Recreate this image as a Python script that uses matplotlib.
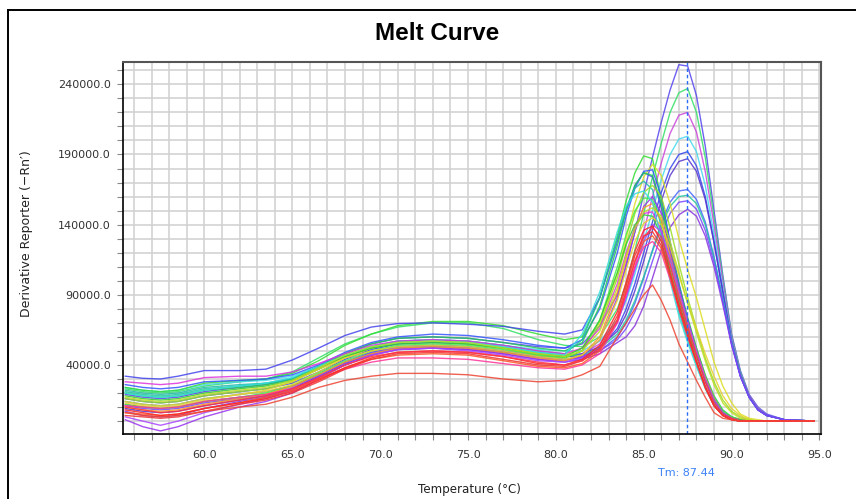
'''
Melt curve: derivative reporter (-Rn') against temperature for every well.
'''

import matplotlib
matplotlib.use('Agg')
import matplotlib.pyplot as plt
import numpy as np
from matplotlib.lines import Line2D
from matplotlib.ticker import FixedLocator, FormatStrFormatter, MultipleLocator

# Temperature points (deg C) shared by all wells
temps = [55.5, 56.5, 57.5, 58.5, 60.0, 62.0, 63.5, 65.0, 66.5, 68.0, 69.5, 71.0,
         73.0, 75.0, 77.0, 79.0, 80.5, 81.5, 82.5, 83.5, 84.0, 84.5, 85.0, 85.5,
         86.0, 86.5, 87.0, 87.5, 88.0, 88.5, 89.0, 89.5, 90.0, 90.5, 91.0, 91.5,
         92.0, 93.0, 94.7]

# Derivative reporter values, in thousands, one list per well
# wells with the late product peak (~87.3 C)
late_blue_1 = [19, 17, 16, 17, 21, 24, 26, 30, 39, 48, 55, 59, 60, 59, 56, 53, 52,
               55, 68, 90, 110, 135, 162, 188, 213, 236, 254, 253, 232, 196, 150, 104, 62, 36, 19, 10, 5, 1, 0]
late_green_1 = [23, 21, 20, 21, 25, 28, 30, 35, 45, 55, 62, 67, 70, 70, 66, 58, 54,
                53, 60, 80, 98, 122, 148, 174, 198, 220, 234, 237, 220, 188, 145, 102, 61, 35, 18, 9, 4, 1, 0]
late_magenta_1 = [12, 10, 9, 10, 14, 17, 19, 24, 33, 42, 49, 53, 54, 53, 50, 47, 46,
                  48, 55, 72, 88, 110, 135, 160, 184, 205, 218, 220, 206, 178, 140, 99, 60, 34, 18, 9, 4, 1, 0]
late_cyan_1 = [24, 22, 21, 22, 26, 28, 29, 32, 39, 47, 53, 57, 58, 57, 54, 51, 50,
               50, 57, 72, 86, 105, 128, 150, 172, 190, 201, 203, 192, 168, 133, 95, 58, 33, 17, 8, 4, 1, 0]
late_blue_2 = [16, 14, 13, 14, 18, 21, 23, 27, 35, 44, 51, 55, 56, 55, 52, 48, 46,
               46, 52, 66, 80, 98, 120, 142, 163, 180, 190, 192, 182, 160, 128, 92, 56, 32, 17, 8, 4, 1, 0]
late_indigo_1 = [9, 7, 6, 7, 11, 15, 18, 23, 32, 41, 48, 52, 53, 52, 49, 46, 46,
                 48, 53, 64, 76, 93, 114, 136, 157, 175, 185, 187, 178, 158, 127, 92, 57, 33, 17, 8, 4, 1, 0]
late_blue_3 = [14, 12, 11, 12, 16, 19, 21, 25, 33, 42, 49, 53, 54, 53, 50, 46, 44,
               45, 50, 60, 70, 84, 102, 122, 141, 156, 164, 165, 158, 142, 117, 87, 55, 32, 17, 8, 4, 1, 0]
late_teal_1 = [21, 19, 18, 19, 23, 25, 27, 30, 38, 46, 52, 56, 57, 56, 53, 49, 47,
               47, 52, 62, 72, 86, 103, 121, 139, 153, 160, 161, 155, 140, 116, 87, 56, 33, 17, 8, 4, 1, 0]
late_purple_1 = [7, 4, 3, 4, 9, 14, 17, 22, 31, 40, 47, 51, 52, 51, 48, 44, 42,
                 44, 48, 56, 60, 68, 82, 102, 122, 138, 147, 151, 146, 132, 110, 83, 54, 32, 17, 8, 4, 1, 0]
late_violet_1 = [11, 9, 8, 9, 13, 16, 18, 23, 32, 41, 48, 52, 53, 52, 49, 45, 44,
                 46, 50, 58, 66, 78, 95, 114, 133, 148, 156, 157, 151, 136, 113, 85, 55, 32, 17, 8, 4, 1, 0]

# wells with the early product peak (~85.3 C)
early_green_1 = [24, 22, 21, 22, 27, 29, 30, 34, 43, 54, 62, 68, 71, 71, 68, 62, 58,
                 60, 88, 132, 157, 177, 189, 187, 158, 125, 98, 74, 52, 32, 16, 7, 3, 1, 0, 0, 0, 0, 0]
early_blue_1 = [32, 30.5, 30, 32, 36, 36, 37, 43.5, 52, 61, 67, 69.5, 70, 69, 67.5, 64, 62,
                65, 88, 128, 150, 168, 177, 174, 152, 120, 92, 68, 48, 28, 14, 5, 2, 0, 0, 0, 0, 0, 0]
early_yellow_1 = [14, 12, 11, 12, 16, 19, 21, 26, 35, 45, 52, 56, 57, 56, 53, 48, 47,
                  52, 70, 105, 130, 155, 174, 183, 175, 155, 130, 108, 88, 65, 42, 25, 13, 5, 2, 1, 0, 0, 0]
early_blue_2 = [26, 24, 23, 24, 28, 29, 30, 33, 40, 49, 56, 60, 62, 61, 58, 54, 52,
                58, 80, 120, 146, 166, 178, 179, 160, 128, 98, 72, 50, 30, 15, 6, 2, 1, 0, 0, 0, 0, 0]
early_green_2 = [20, 18, 17, 18, 22, 24, 26, 30, 39, 48, 55, 59, 60, 59, 56, 52, 50,
                 56, 82, 125, 150, 168, 177, 175, 155, 124, 96, 72, 52, 33, 18, 8, 3, 1, 0, 0, 0, 0, 0]
early_teal_1 = [22, 20, 19, 20, 24, 26, 27, 30, 37, 46, 53, 57, 58, 57, 54, 50, 48,
                58, 88, 130, 152, 166, 171, 165, 138, 104, 78, 58, 40, 24, 12, 5, 2, 0, 0, 0, 0, 0, 0]
early_lime_1 = [16, 14, 13, 14, 18, 21, 23, 28, 37, 46, 52, 56, 57, 55, 52, 47, 45,
                50, 68, 102, 126, 148, 163, 168, 160, 138, 112, 88, 66, 45, 28, 15, 7, 3, 1, 0, 0, 0, 0]
early_green_3 = [12, 10, 9, 10, 14, 17, 20, 25, 34, 43, 50, 54, 55, 54, 51, 47, 45,
                 50, 72, 110, 133, 150, 159, 158, 142, 115, 90, 68, 49, 31, 17, 7, 3, 1, 0, 0, 0, 0, 0]
early_purple_1 = [1, -4, -7, -4, 3, 10, 14, 20, 30, 40, 47, 51, 52, 51, 48, 44, 43,
                  46, 58, 88, 112, 135, 153, 160, 148, 122, 95, 72, 50, 31, 16, 6, 2, 1, 0, 0, 0, 0, 0]
early_orange_1 = [10, 8, 7, 8, 12, 16, 19, 25, 33, 42, 48, 52, 53, 52, 49, 45, 43,
                  47, 60, 92, 116, 138, 152, 155, 143, 118, 92, 70, 50, 31, 16, 6, 2, 1, 0, 0, 0, 0, 0]
early_magenta_1 = [28, 27, 26, 27, 31, 32, 32, 35, 41, 48, 54, 57, 58, 57, 54, 50, 48,
                   52, 66, 98, 120, 138, 148, 149, 136, 112, 88, 66, 47, 29, 15, 6, 2, 1, 0, 0, 0, 0, 0]
early_green_4 = [18, 16, 15, 16, 20, 23, 25, 29, 37, 46, 52, 55, 56, 55, 52, 48, 46,
                 52, 72, 106, 126, 140, 147, 146, 132, 108, 85, 64, 46, 29, 15, 6, 2, 1, 0, 0, 0, 0, 0]
early_yellow_2 = [13, 11, 10, 11, 15, 19, 22, 28, 37, 45, 50, 53, 54, 53, 50, 46, 44,
                  47, 58, 86, 108, 128, 141, 145, 140, 124, 104, 84, 66, 48, 32, 18, 9, 4, 1, 0, 0, 0, 0]
early_cyan_1 = [20, 18, 17, 18, 22, 25, 27, 31, 39, 47, 53, 56, 57, 56, 53, 49, 47,
                62, 92, 135, 153, 162, 164, 156, 130, 100, 75, 56, 39, 23, 11, 4, 1, 0, 0, 0, 0, 0, 0]
early_chartreuse_1 = [17, 15, 14, 15, 19, 22, 24, 29, 38, 47, 53, 56, 57, 56, 52, 48, 46,
                      50, 64, 95, 118, 137, 149, 152, 146, 128, 106, 84, 63, 43, 26, 13, 6, 2, 1, 0, 0, 0, 0]
early_violet_1 = [3, 0, -3, 0, 6, 12, 16, 22, 31, 40, 47, 51, 52, 50, 47, 43, 42,
                  45, 52, 70, 88, 108, 128, 140, 135, 116, 93, 71, 50, 30, 15, 6, 2, 0, 0, 0, 0, 0, 0]
early_pink_1 = [11, 10, 9, 10, 14, 17, 19, 23, 30, 37, 42, 45, 45, 44, 41, 38, 37,
                40, 48, 70, 90, 110, 124, 128, 120, 101, 80, 60, 42, 24, 11, 4, 1, 0, 0, 0, 0, 0, 0]
early_orange_2 = [6, 5, 4, 5, 9, 13, 17, 22, 30, 38, 44, 47, 48, 47, 43, 39, 38,
                  41, 50, 72, 93, 114, 128, 132, 123, 103, 81, 61, 42, 24, 11, 4, 1, 0, 0, 0, 0, 0, 0]
early_red_1 = [8, 6, 4, 5, 9, 13, 16, 21, 29, 38, 45, 49, 50, 49, 46, 41, 40,
               44, 54, 78, 99, 121, 136, 139, 128, 106, 83, 63, 43, 25, 11, 4, 1, 0, 0, 0, 0, 0, 0]
early_red_2 = [4, 3, 2, 3, 7, 12, 15, 20, 28, 37, 44, 48, 49, 48, 44, 40, 39,
               43, 52, 75, 96, 118, 132, 135, 125, 104, 81, 61, 42, 24, 11, 4, 1, 0, 0, 0, 0, 0, 0]
early_red_3 = [10, 8, 6, 7, 11, 15, 18, 23, 31, 40, 46, 49, 50, 49, 46, 42, 40,
               43, 51, 72, 92, 114, 131, 138, 131, 111, 88, 67, 47, 28, 13, 5, 2, 0, 0, 0, 0, 0, 0]
early_red_low = [6, 4, 3, 4, 7, 10, 12, 17, 24, 29, 32, 34, 34, 33, 30, 28, 29,
                 33, 39, 60, 70, 80, 90, 97, 86, 72, 55, 42, 29, 17, 6, 2, 1, 0, 0, 0, 0, 0, 0]

series = [late_blue_1, late_green_1, late_magenta_1, late_cyan_1, late_blue_2,
          late_indigo_1, late_blue_3, late_teal_1, late_purple_1, late_violet_1,
          early_green_1, early_blue_1, early_yellow_1, early_blue_2, early_green_2,
          early_teal_1, early_lime_1, early_green_3, early_purple_1, early_orange_1,
          early_magenta_1, early_green_4, early_yellow_2, early_cyan_1,
          early_chartreuse_1, early_violet_1, early_pink_1, early_orange_2,
          early_red_1, early_red_2, early_red_3, early_red_low]
series_colors = ['#5544ee', '#33e066', '#cc44dd', '#44d8ee', '#3344ee',
                 '#5533cc', '#4466ff', '#22c8a0', '#8833dd', '#7744ff',
                 '#33dd33', '#4444ee', '#dddd22', '#3355ff', '#22cc55',
                 '#22bbaa', '#99dd22', '#44ee44', '#9933ee', '#ff9922',
                 '#dd33dd', '#33cc33', '#e6d02a', '#33dddd',
                 '#bbdd22', '#aa44ff', '#ff3399', '#ff5522',
                 '#ff2222', '#ee3333', '#ff3344', '#ee4433']

tm_value = 87.44
x_ticks = [60.0, 65.0, 70.0, 75.0, 80.0, 85.0, 90.0, 95.0]
y_ticks = [40000, 90000, 140000, 190000, 240000]


def main() -> None:
    fig = plt.figure(figsize=(8.56, 4.99), dpi=100)
    ax = fig.add_axes([123 / 856, 65 / 499, 697.7 / 856, 372 / 499])

    for values, color in zip(series, series_colors):
        ax.plot(temps, np.array(values) * 1000, color=color, lw=1.0, alpha=0.85)

    # Tm marker
    ax.axvline(tm_value, color='#2a6ef5', ls=(0, (2.5, 2)), lw=1.0)
    ax.annotate(f'Tm: {tm_value:.2f}', xy=(tm_value, 0),
                xycoords=('data', 'axes fraction'), xytext=(0, -39),
                textcoords='offset pixels', ha='center', va='center',
                fontsize=8, color='#3b82f6')

    ax.set_xlim(55.37, 95.07)
    ax.set_ylim(-9200, 255900)

    ax.xaxis.set_major_locator(FixedLocator(x_ticks))
    ax.xaxis.set_minor_locator(MultipleLocator(1))
    ax.yaxis.set_major_locator(FixedLocator(y_ticks))
    ax.yaxis.set_minor_locator(MultipleLocator(10000))
    ax.xaxis.set_major_formatter(FormatStrFormatter('%.1f'))
    ax.yaxis.set_major_formatter(FormatStrFormatter('%.1f'))

    ax.grid(which='both', color='#d0d0d0', lw=1.1)
    ax.set_axisbelow(True)
    ax.tick_params(which='both', direction='out', length=4.6, width=0.8,
                   color='#888888', labelsize=8, labelcolor='#333333')
    ax.tick_params(axis='x', which='both', pad=6.7)
    ax.tick_params(axis='y', which='both', pad=4)

    for side in ('left', 'bottom'):
        ax.spines[side].set_color('black')
        ax.spines[side].set_linewidth(1.2)
    for side in ('top', 'right'):
        ax.spines[side].set_color('#555555')
        ax.spines[side].set_linewidth(1.5)

    ax.set_xlabel('Temperature (°C)', fontsize=8.6, color='#222222')
    ax.xaxis.set_label_coords(0.4966, -0.148)
    ax.xaxis.label.set_va('center')
    ax.set_ylabel('Derivative Reporter (−Rn′)', fontsize=9, color='#222222')
    ax.yaxis.set_label_coords(-0.1376, 0.5376)
    ax.yaxis.label.set_va('center')
    ax.yaxis.label.set_ha('center')

    fig.text(437 / 856, 1 - 33 / 499, 'Melt Curve', ha='center', va='center',
             fontsize=17.5, fontweight='bold', family='Liberation Sans')

    # outer panel frame (left and top edges visible)
    fig.add_artist(Line2D([8 / 856, 8 / 856], [0, 1 - 10 / 499], color='black',
                          lw=1.4, transform=fig.transFigure))
    fig.add_artist(Line2D([8 / 856, 1], [1 - 10 / 499, 1 - 10 / 499], color='black',
                          lw=1.4, transform=fig.transFigure))

    fig.savefig('out.png', dpi=100)
    plt.close(fig)


if __name__ == '__main__':
    main()
